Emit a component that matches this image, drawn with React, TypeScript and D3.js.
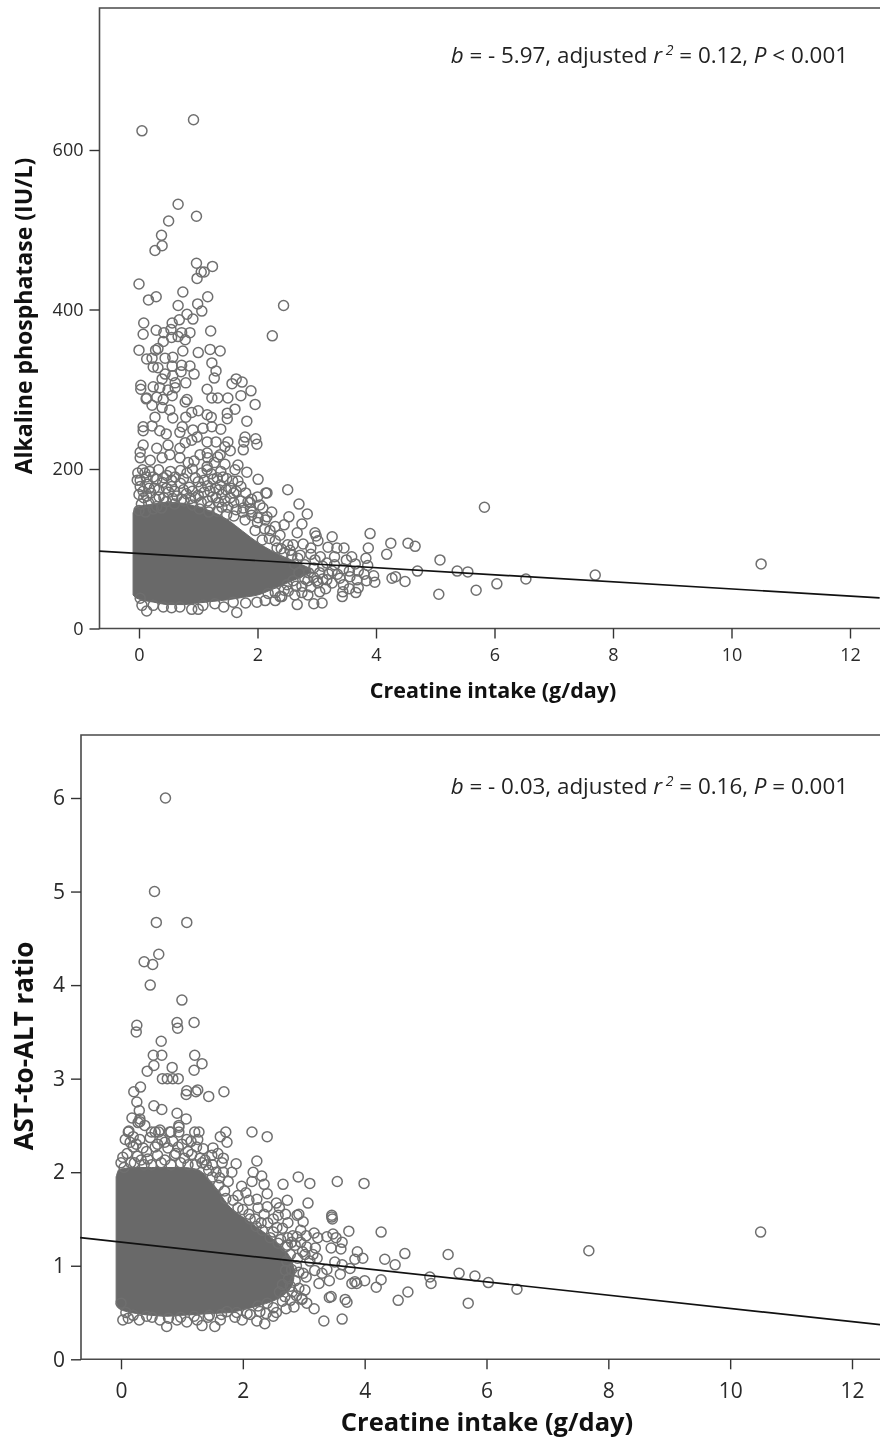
import * as d3 from "d3";
import { useEffect, useRef } from "react";

type Pt = [number, number];

const xTicks = [0, 2, 4, 6, 8, 10, 12];
const alpTicks = [0, 200, 400, 600];
const ratioTicks = [0, 1, 2, 3, 4, 5, 6];

// regression lines, read at the two ends of each plot
const alpLine: Pt[] = [[-0.67, 97], [12.5, 38.5]];
const ratioLine: Pt[] = [[-0.67, 1.3], [12.46, 0.37]];

// outline of the area where the circles overlap into solid grey: [intake, low, high]
const alpCore: [number, number, number][] = [
  [-0.1, 42, 145], [-0.04, 38, 152], [0.25, 33, 156], [0.5, 30, 158], [0.75, 30, 157], [1, 32, 152],
  [1.25, 34, 146], [1.5, 36, 136], [1.75, 39, 122], [2, 42, 108], [2.25, 49, 97], [2.5, 57, 88],
  [2.75, 65, 80], [2.9, 70, 75],
];
const ratioCore: [number, number, number][] = [
  [-0.08, 0.62, 1.95], [-0.03, 0.54, 2.03], [0.25, 0.49, 2.05], [0.5, 0.47, 2.05], [0.75, 0.46, 2.05], [1, 0.47, 2.05],
  [1.25, 0.48, 2.03], [1.5, 0.49, 1.88], [1.8, 0.5, 1.62], [2, 0.53, 1.52], [2.3, 0.58, 1.38], [2.6, 0.66, 1.22],
  [2.8, 0.78, 1.05], [2.85, 0.92, 0.95],
];

const alpUpper: Pt[] = [
  [0.05, 624], [0.92, 638], [0.66, 532], [0.97, 517], [0.5, 511], [0.38, 493], [0.39, 480], [0.27, 474], [0.97, 458],
  [1.24, 454], [1.05, 447], [1.1, 447], [0.98, 439], [0, 432], [0.74, 422], [0.29, 416], [0.16, 412], [1.16, 416],
  [2.44, 405], [0.99, 407], [0.66, 405], [1.06, 398], [0.81, 394], [2.25, 367], [0.68, 387], [0.91, 388], [0.08, 383],
  [0.56, 383], [0.07, 369], [0.29, 374], [1.21, 373], [0.42, 371], [0.54, 375], [0.72, 371], [0.86, 371], [0.78, 362],
  [0.41, 360], [0.55, 365], [0.66, 366], [0, 349], [0.32, 351], [0.28, 349], [0.74, 348], [1, 346], [1.2, 350], [1.37, 348],
  [0.13, 338], [0.22, 339], [0.44, 339], [0.57, 340], [1.23, 333], [0.86, 329], [0.72, 330], [0.56, 329], [0.24, 328],
  [0.32, 327], [1.3, 323], [0.93, 319], [0.71, 322], [0.44, 319], [0.57, 317], [1.27, 314], [0.79, 308], [0.61, 308],
  [0.39, 313], [0.03, 305], [0.03, 300], [0.24, 303], [0.35, 302], [0.49, 299], [0.61, 302], [1.64, 313], [1.57, 307],
  [1.74, 309], [1.15, 300], [1.89, 298], [1.72, 292], [1.23, 289], [1.33, 289], [1.5, 289], [0.81, 287], [0.13, 289],
  [0.3, 290], [0.56, 292],
];
const alpMiddle: Pt[] = [
  [1.96, 281], [1.62, 275], [1.82, 260], [1.49, 270], [1.49, 263], [0.78, 284], [0.41, 287], [0.22, 280], [0.12, 288],
  [1, 273], [0.89, 271], [1.15, 268], [1.22, 265], [0.79, 265], [0.57, 264], [0.27, 265], [0.39, 277], [0.52, 274],
  [0.07, 253], [0.07, 248], [0.22, 254], [0.35, 248], [0.46, 244], [0.73, 253], [0.69, 246], [0.91, 249], [1.08, 251],
  [1.23, 253], [1.38, 250], [0.98, 240], [0.89, 236], [1.15, 234], [1.3, 234], [1.5, 234], [1.79, 240], [1.97, 238],
  [1.99, 231], [1.77, 234], [1.76, 224], [1.45, 228], [1.54, 223], [1.37, 218], [0.07, 230], [0.02, 221], [0.02, 214],
  [0.3, 226], [0.49, 230], [0.69, 226], [0.52, 218], [0.78, 233], [0.69, 214], [0.39, 214], [0.19, 211], [1.15, 220],
  [1.16, 214], [1.03, 218], [1.33, 215], [0.93, 210], [0.83, 208], [1.15, 203], [1.27, 208], [1.45, 206], [1.67, 205],
  [1.62, 199], [1.82, 196], [1.42, 190], [1.32, 189], [1.37, 180], [1.67, 185], [2.01, 187], [1.64, 172], [1.54, 164],
  [2.14, 170], [1.84, 159], [1.4, 152], [2.09, 151], [1.64, 149], [1.76, 151], [1.91, 146], [2.16, 140], [1.79, 136],
  [2.01, 139], [-0.02, 195], [-0.03, 186], [0.02, 186], [0.1, 195], [0.24, 190], [0.47, 192], [0.61, 190], [0.81, 195],
  [1.06, 195], [1.15, 199],
];
// half-packed band just above the solid grey
const alpBand: Pt[] = [
  [0.02, 178], [0.14, 181], [0.26, 176], [0.4, 183], [0.55, 178], [0.7, 182], [0.85, 177], [1, 184], [1.16, 179], [1.29, 176],
  [1.47, 174], [0, 168], [0.08, 164], [0.2, 170], [0.34, 165], [0.5, 171], [0.64, 166], [0.8, 169], [0.95, 164], [1.1, 171],
  [1.24, 165], [1.4, 168], [1.55, 176], [0.04, 156], [0.16, 158], [0.3, 153], [0.46, 159], [0.6, 156], [0.76, 160], [0.9, 155],
  [1.05, 158], [1.2, 153], [1.34, 158], [1.5, 152], [0, 148], [0.11, 146], [0.24, 150], [0.38, 151], [1.02, 150], [1.18, 146],
  [1.32, 147], [1.48, 143], [1.6, 141], [1.72, 160], [1.9, 162], [1.58, 185],
  [0.06, 199], [0.18, 197], [0.33, 199], [0.53, 197], [0.7, 198], [0.9, 200], [1.22, 194], [1.38, 197], [0.12, 190], [0.3, 187],
  [0.42, 189], [0.55, 186], [0.75, 188], [0.95, 189], [1.1, 186], [1.25, 187], [1.48, 188], [0.07, 172], [0.17, 176], [0.33, 174],
  [0.46, 176], [0.6, 172], [0.75, 174], [0.9, 172], [1.05, 177], [1.2, 172], [1.35, 174], [1.6, 170], [1.72, 178], [1.8, 170],
  [0.13, 166], [0.28, 162], [0.42, 164], [0.57, 163], [0.72, 162], [0.87, 163], [1, 167], [1.16, 160], [1.3, 164], [1.45, 160],
  [1.6, 158], [1.75, 146], [1.88, 150],
];
const alpRight: Pt[] = [
  [2.51, 174], [2.16, 170], [2.7, 156], [2.84, 143.5], [2.53, 140], [2.75, 131], [2.67, 120], [2.97, 120], [2.99, 116], [3.02, 110],
  [3.26, 115], [3.9, 119], [4.25, 107], [4.54, 107], [4.66, 103], [3.87, 101], [4.18, 93], [3.19, 102], [3.34, 101], [3.46, 101],
  [2.9, 101], [2.77, 106], [2.6, 105], [3.59, 90], [3.5, 86], [3.83, 88], [5.08, 86], [2.97, 86], [3.17, 82], [3.65, 81], [3.86, 79],
  [4.7, 72], [5.37, 72], [5.55, 71], [3.26, 72], [3.05, 70], [3.8, 68], [3.96, 66], [3.98, 58], [3.84, 60], [4.27, 63], [4.33, 65],
  [4.49, 59], [5.69, 48], [5.06, 43], [3.68, 61], [3.56, 65], [3.39, 63], [3.26, 57], [3.17, 61], [3.44, 46], [3.7, 51], [3.66, 45],
  [3.43, 40], [3.02, 57], [3.05, 46], [2.85, 42], [2.63, 42], [2.67, 30], [2.95, 31], [3.09, 32], [5.83, 152], [10.5, 81], [7.7, 67],
  [6.53, 62], [6.04, 56], [2.04, 155], [1.9, 142], [2.13, 136], [1.96, 123], [2.21, 123], [2.08, 111], [2.38, 117], [2.33, 101],
  [2.51, 105], [2.24, 146], [1.87, 158], [2, 165], [2.58, 92], [2.72, 92], [2.8, 80], [2.63, 80], [2.86, 70], [2.45, 130], [2.3, 128],
  [2, 133], [2.12, 125], [2.2, 113], [2.3, 110], [2.4, 100], [2.45, 95], [2.55, 98], [2.68, 88], [2.9, 93], [3.06, 90], [3.1, 78],
  [2.95, 76], [3.2, 68], [3.1, 62], [2.95, 64], [2.7, 70], [2.8, 62], [2.65, 53], [2.5, 55], [2.9, 52], [3, 60], [3.3, 80], [3.45, 75],
  [3.55, 72], [3.35, 68], [3.45, 55], [3.55, 50], [3.3, 90], [3.7, 72], [3.15, 50], [2.75, 45], [2.45, 48], [2.3, 45],
];
const alpLower: Pt[] = [
  [0.13, 22], [1.65, 20], [1.43, 27], [1.8, 32], [1.59, 33], [0.55, 26], [1.28, 31], [0.89, 24], [1, 24], [1.08, 29], [0.41, 27],
  [0.05, 29], [1.99, 33], [2.13, 35], [2.3, 35], [2.41, 40], [0.02, 38], [0.24, 29], [0.69, 27], [2.18, 44], [2.38, 40], [2.52, 47],
  [2.75, 53], [2.6, 60], [2.85, 60],
];

const ratioUpper: Pt[] = [
  [0.73, 6], [0.55, 5], [0.58, 4.67], [1.08, 4.67], [0.62, 4.33], [0.38, 4.25], [0.52, 4.22], [0.48, 4], [1, 3.84], [0.26, 3.57],
  [0.25, 3.5], [0.92, 3.6], [0.93, 3.54], [1.2, 3.6], [0.66, 3.4], [0.53, 3.25], [0.67, 3.25], [1.21, 3.25], [1.33, 3.16], [0.54, 3.14],
  [0.43, 3.08], [0.84, 3.12], [1.2, 3.09], [0.68, 3], [0.76, 3], [0.85, 3], [0.94, 3], [0.32, 2.91], [0.21, 2.86], [1.08, 2.87],
  [1.07, 2.83], [1.23, 2.86], [1.26, 2.88], [1.44, 2.81], [1.69, 2.86], [0.26, 2.75], [0.54, 2.71], [0.67, 2.67], [0.3, 2.66],
  [0.92, 2.63], [0.18, 2.58], [1.07, 2.57], [0.31, 2.57], [0.28, 2.53], [0.39, 2.5], [0.95, 2.5], [0.13, 2.44], [0.56, 2.43],
  [0.62, 2.43], [0.82, 2.43], [0.95, 2.43], [1.21, 2.43], [1.28, 2.43], [1.72, 2.43], [2.15, 2.43], [2.4, 2.38], [1.63, 2.38],
  [1.74, 2.32],
];
const ratioFringe: Pt[] = [
  [0.12, 2.43], [0.07, 2.35], [0.2, 2.38], [0.31, 2.54], [0.5, 2.43], [0.64, 2.45], [0.8, 2.43], [0.95, 2.48], [1.26, 2.35],
  [1.08, 2.35], [1.24, 2.27], [0.67, 2.35], [0.48, 2.37], [0.31, 2.35], [0.03, 2.16], [0.2, 2.27], [0.36, 2.26], [0.56, 2.27],
  [0.77, 2.26], [0.94, 2.27], [1.38, 2.13], [1.51, 2.26], [1.49, 2.18], [1.59, 2.2], [1.68, 2.15], [1.66, 2.1], [1.89, 2.09],
  [1.82, 2], [1.56, 2], [1.76, 1.9], [0.1, 2.2], [0.27, 2.17], [0.44, 2.14], [0.6, 2.18], [0.72, 2.13], [0.88, 2.18], [1.04, 2.15],
  [1.16, 2.19], [1.3, 2.15], [0.16, 2.1], [0.38, 2.08], [1.22, 2.08], [1.44, 2.02], [1.7, 1.8], [1.62, 1.94], [1.92, 1.75],
  [0, 2.1], [0.05, 2.05], [0.22, 2.1], [0.33, 2.13], [0.5, 2.08], [0.66, 2.1], [0.82, 2.08], [0.98, 2.1], [1.1, 2.08], [1.33, 2.1],
  [0.42, 2.22], [0.15, 2.32], [0.25, 2.3], [0.6, 2.3], [0.72, 2.32], [0.85, 2.33], [1, 2.3], [1.15, 2.33], [1.35, 2.25], [1.1, 2.22],
  [0.9, 2.2],
];
const ratioRight: Pt[] = [
  [2.23, 2.12], [2.17, 2], [2.31, 1.96], [2.15, 1.9], [2.35, 1.87], [2.66, 1.87], [2.91, 1.95], [3.1, 1.88], [3.55, 1.9], [3.99, 1.88],
  [3.07, 1.67], [2.73, 1.7], [2.4, 1.77], [2.1, 1.7], [2.55, 1.67], [2.23, 1.71], [2.25, 1.62], [2.4, 1.63], [2.58, 1.54], [2.89, 1.54],
  [2.92, 1.55], [2.99, 1.47], [2.74, 1.46], [3.46, 1.54], [3.46, 1.52], [3.47, 1.5], [2.56, 1.41], [2.41, 1.46], [4.27, 1.36], [3.74, 1.37],
  [3.17, 1.35], [3.04, 1.32], [3.48, 1.34], [3.63, 1.25], [3.38, 1.31], [3.23, 1.3], [3.53, 1.3], [2.89, 1.31], [2.74, 1.3], [2.86, 1.22],
  [2.73, 1.22], [3.19, 1.19], [3.45, 1.19], [3.61, 1.18], [4.66, 1.13], [5.37, 1.12], [4.33, 1.07], [4.5, 1.01], [3.88, 1.15], [3.97, 1.08],
  [3.84, 1.07], [3.51, 1.04], [3.63, 1.01], [3.02, 1.12], [3.22, 1.08], [3.76, 0.97], [3.38, 0.96], [3.3, 0.92], [3.6, 0.91], [5.07, 0.88],
  [5.09, 0.81], [5.55, 0.92], [5.81, 0.89], [6.03, 0.82], [6.5, 0.75], [5.7, 0.6], [4.71, 0.72], [4.55, 0.63], [4.27, 0.85], [4.19, 0.77],
  [4, 0.84], [3.87, 0.81], [3.79, 0.81], [3.84, 0.83], [3.25, 0.81], [3.42, 0.84], [2.99, 0.92], [3.04, 0.88], [2.92, 0.76], [3.02, 0.74],
  [2.97, 0.65], [3.42, 0.66], [3.45, 0.67], [3.68, 0.64], [3.71, 0.61], [3.05, 0.6], [3.17, 0.54], [3.33, 0.41], [3.63, 0.43], [7.68, 1.16],
  [10.5, 1.36], [2, 1.6], [2.12, 1.5], [2.3, 1.46], [2.5, 1.36], [2.65, 1.4], [2.78, 1.12], [2.9, 1.08], [2.86, 0.84], [2.7, 0.95],
  [1.5, 1.95], [1.6, 1.86], [1.72, 1.72], [1.84, 1.7], [1.92, 1.62], [2.05, 1.78], [2.1, 1.55], [2.2, 1.5], [1.98, 1.85], [1.5, 2.08],
  [1.68, 2], [1.4, 2.08], [2.22, 1.42], [2.35, 1.55], [2.32, 1.38], [2.45, 1.3], [2.5, 1.5], [2.62, 1.28], [2.7, 1.2], [2.58, 1.24],
  [2.8, 1.25], [2.82, 1.32], [2.95, 1.25], [3.05, 1.2], [2.98, 1.15], [2.72, 1.05], [2.88, 1], [2.8, 0.96], [2.92, 0.93], [2.75, 0.86],
  [2.65, 0.8], [2.78, 0.78], [2.88, 0.68], [2.65, 0.62], [2.6, 0.72], [2.95, 1.38], [2.7, 1.55], [2.6, 1.62], [3.15, 1.12], [3.1, 1.05],
  [3.18, 0.95],
];
const ratioLower: Pt[] = [
  [2.5, 0.46], [2.36, 0.38], [2.23, 0.41], [1.99, 0.42], [1.87, 0.45], [1.54, 0.35], [1.63, 0.42], [1.33, 0.36], [1.08, 0.4], [0.75, 0.35],
  [0.92, 0.42], [0.3, 0.42], [0.03, 0.42], [0.12, 0.44], [0.64, 0.42], [1.25, 0.42], [1.43, 0.45], [2.28, 0.51], [2.07, 0.49], [1.74, 0.51],
  [0.51, 0.45], [2.84, 0.56], [2.71, 0.54], [2.78, 0.63], [2.69, 0.67], [2.5, 0.55], [2.97, 0.64], [2.81, 0.72],
  [2.4, 0.6], [2.25, 0.57], [2.55, 0.5], [2.38, 0.49], [2.12, 0.48], [1.9, 0.5], [1.65, 0.48], [1.45, 0.47], [1.2, 0.46], [0.98, 0.45],
  [0.78, 0.44], [0.42, 0.46], [0.2, 0.47], [0.08, 0.5], [0, 0.6],
];

const alpPoints = [...alpUpper, ...alpMiddle, ...alpBand, ...alpRight, ...alpLower];
const ratioPoints = [...ratioUpper, ...ratioFringe, ...ratioRight, ...ratioLower];

const POINT_GREY = "#6f6f6f";
const FONT = '"Open Sans", "Noto Sans", sans-serif';

function drawPanel(svg: any, p: any) {
  const x = d3.scaleLinear().domain([0, 12]).range(p.xRange);
  const y = d3.scaleLinear().domain(p.yDomain).range(p.yRange);
  const g = svg.append("g");

  // frame: left, top and bottom only, the right side is cut by the page
  g.append("path")
    .attr("d", `M880,${p.frameTop}H${p.frameLeft}V${p.yRange[0]}H880`)
    .attr("fill", "none")
    .attr("stroke", "#4a4a4a")
    .attr("stroke-width", 1.6);

  const area = d3.area<[number, number, number]>()
    .x(d => x(d[0]))
    .y0(d => y(d[1]))
    .y1(d => y(d[2]))
    .curve(d3.curveMonotoneX);

  g.append("path")
    .attr("d", area(p.core))
    .attr("fill", "#696969")
    .attr("stroke", "#696969")
    .attr("stroke-width", 1);

  g.append("g")
    .selectAll("circle")
    .data(p.points)
    .enter()
    .append("circle")
    .attr("cx", (d: Pt) => x(d[0]))
    .attr("cy", (d: Pt) => y(d[1]))
    .attr("r", 5)
    .attr("fill", "none")
    .attr("stroke", POINT_GREY)
    .attr("stroke-width", 1.5);

  const line = d3.line<Pt>().x(d => x(d[0])).y(d => y(d[1]));
  g.append("path")
    .attr("d", line(p.line))
    .attr("fill", "none")
    .attr("stroke", "#111")
    .attr("stroke-width", 1.7);

  const xAxis = d3.axisBottom(x).tickValues(xTicks).tickSize(10).tickPadding(p.xPad).tickFormat(d3.format("d"));
  const yAxis = d3.axisLeft(y).tickValues(p.yTicks).tickSize(10).tickPadding(p.yPad).tickFormat(d3.format("d"));

  const xg = g.append("g").attr("transform", `translate(0,${p.yRange[0]})`).call(xAxis);
  const yg = g.append("g").attr("transform", `translate(${p.frameLeft},0)`).call(yAxis);
  [xg, yg].forEach(a => {
    a.select(".domain").remove();
    a.selectAll("line").attr("stroke", "#333").attr("stroke-width", 1.4);
    a.selectAll("text").attr("font-family", FONT).attr("font-size", p.tickSize).attr("fill", "#2a2a2a");
  });

  g.append("text")
    .attr("x", p.xTitle[0])
    .attr("y", p.xTitle[1])
    .attr("text-anchor", "middle")
    .attr("font-family", FONT)
    .attr("font-weight", 700)
    .attr("font-size", p.xTitle[2])
    .attr("fill", "#111")
    .text("Creatine intake (g/day)");

  g.append("text")
    .attr("transform", `translate(${p.yTitle[0]},${p.yTitle[1]}) rotate(-90)`)
    .attr("text-anchor", "middle")
    .attr("font-family", FONT)
    .attr("font-weight", 700)
    .attr("font-size", p.yTitle[2])
    .attr("fill", "#111")
    .text(p.yLabel);

  const note = g.append("text")
    .attr("x", 848)
    .attr("y", p.noteY)
    .attr("text-anchor", "end")
    .attr("font-family", FONT)
    .attr("font-size", 22.4)
    .attr("fill", "#222");
  p.note.forEach((part: any) => {
    const t = note.append("tspan").text(part.t);
    if (part.i) t.attr("font-style", "italic");
    if (part.sup) t.attr("font-size", 14).attr("font-style", "italic").attr("dy", -8);
    if (part.down) t.attr("dy", 8);
  });
}

function App() {
  const ref = useRef<SVGSVGElement>(null);

  useEffect(() => {
    const svg = d3.select(ref.current);
    svg.selectAll("*").remove();

    drawPanel(svg, {
      xRange: [139, 850],
      yDomain: [0, 600],
      yRange: [628.5, 150],
      frameLeft: 99.5,
      frameTop: 8,
      yTicks: alpTicks,
      core: alpCore,
      points: alpPoints,
      line: alpLine,
      tickSize: 18,
      xPad: 10,
      yPad: 6,
      xTitle: [493, 698, 21.5],
      yTitle: [32, 316, 23],
      yLabel: "Alkaline phosphatase (IU/L)",
      noteY: 63,
      note: [
        { t: "b", i: true }, { t: " = - 5.97, adjusted " }, { t: "r", i: true }, { t: " 2", sup: true },
        { t: " = 0.12, ", down: true }, { t: "P", i: true }, { t: " < 0.001" },
      ],
    });

    drawPanel(svg, {
      xRange: [121, 852],
      yDomain: [0, 6],
      yRange: [1359.3, 798],
      frameLeft: 81,
      frameTop: 735,
      yTicks: ratioTicks,
      core: ratioCore,
      points: ratioPoints,
      line: ratioLine,
      tickSize: 21,
      xPad: 14,
      yPad: 6,
      xTitle: [487, 1431, 25.5],
      yTitle: [33, 1046, 26],
      yLabel: "AST-to-ALT ratio",
      noteY: 794,
      note: [
        { t: "b", i: true }, { t: " = - 0.03, adjusted " }, { t: "r", i: true }, { t: " 2", sup: true },
        { t: " = 0.16, ", down: true }, { t: "P", i: true }, { t: " = 0.001" },
      ],
    });
  }, []);

  return (
    <svg
      ref={ref}
      width={880}
      height={1439}
      style={{ position: "absolute", left: 0, top: 0, display: "block", background: "#fff", filter: "blur(0.4px)" }}
    />
  );
}

export default App;
